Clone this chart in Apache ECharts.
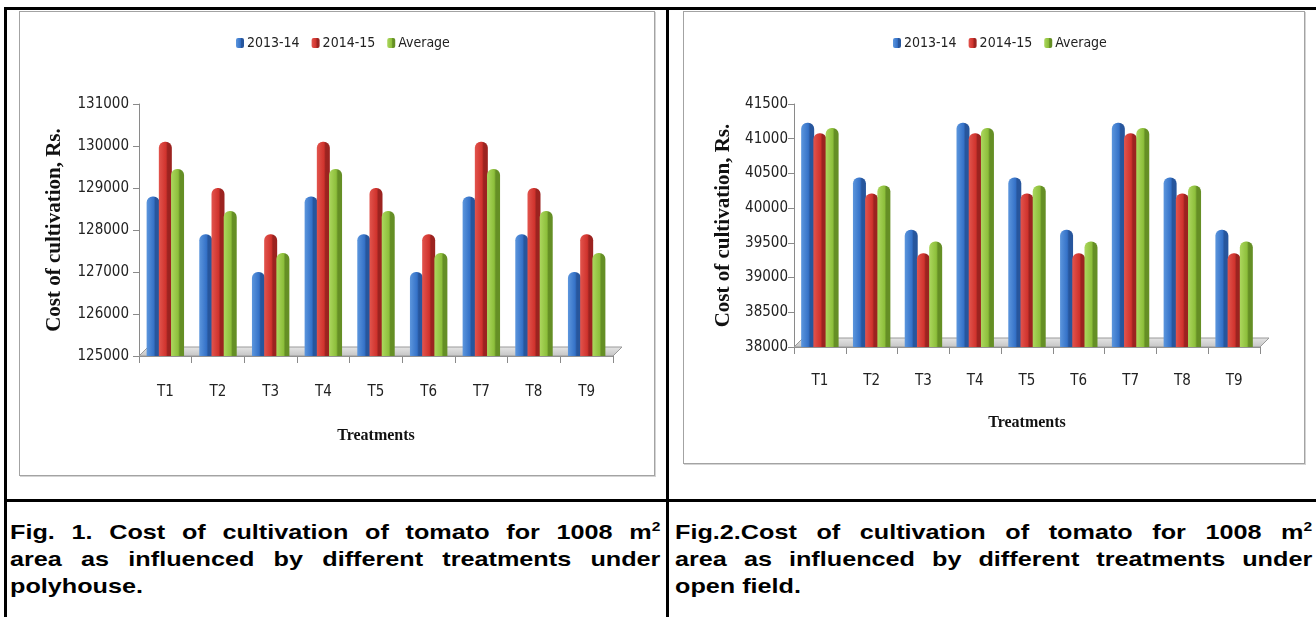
<!DOCTYPE html>
<html>
<head>
<meta charset="utf-8">
<script src="https://cdn.jsdelivr.net/npm/echarts@6/dist/echarts.min.js"></script>
<style>
  html, body { margin: 0; padding: 0; background: #fff; width: 1316px; height: 617px; overflow: hidden; }
  .rule { position: absolute; background: #000; }
  .frame { position: absolute; border: 1px solid #a3a3a3; box-shadow: 1px 1px 0 #d4d4d4; background: #fff; }
  .cap {
    position: absolute; font-family: 'Liberation Sans', Arial, sans-serif; font-weight: bold;
    font-size: 21px; line-height: 27px; color: #000;
    transform: scaleX(1.2); transform-origin: 0 0;
  }
  .cap div { text-align: justify; text-align-last: justify; white-space: nowrap; }
  .cap div.last { text-align: left; text-align-last: left; }
  .cap sup { font-size: 13px; line-height: 0; }
</style>
</head>
<body>
<!-- table rules -->
<div class="rule" style="left:4px;top:7px;width:1312px;height:3px"></div>
<div class="rule" style="left:4px;top:7px;width:3px;height:610px"></div>
<div class="rule" style="left:666px;top:7px;width:3px;height:610px"></div>
<div class="rule" style="left:4px;top:499px;width:1312px;height:3px"></div>

<div id="polyChart" class="frame" style="left:19px;top:11px;width:634px;height:463px"></div>
<div id="openChart" class="frame" style="left:683px;top:11px;width:620px;height:451px"></div>

<div class="cap" style="left:10px;top:518px;width:542px">
  <div>Fig. 1. Cost of cultivation of tomato for 1008 m<sup>2</sup></div>
  <div>area as influenced by different treatments under</div>
  <div class="last">polyhouse.</div>
</div>
<div class="cap" style="left:675px;top:518px;width:531px">
  <div>Fig.2.Cost of cultivation of tomato for 1008 m<sup>2</sup></div>
  <div>area as influenced by different treatments under</div>
  <div class="last">open field.</div>
</div>

<script>
const treatments = ['T1', 'T2', 'T3', 'T4', 'T5', 'T6', 'T7', 'T8', 'T9'];
const seriesNames = ['2013-14', '2014-15', 'Average'];

// polyhouse (Fig. 1)
const poly2013 = [128800, 127900, 127000, 128800, 127900, 127000, 128800, 127900, 127000];
const poly2014 = [130100, 129000, 127900, 130100, 129000, 127900, 130100, 129000, 127900];
const polyAvg = [129450, 128450, 127450, 129450, 128450, 127450, 129450, 128450, 127450];
const polyAxis = [125000, 131000, 1000]; // min, max, interval

// open field (Fig. 2)
const open2013 = [41230, 40440, 39690, 41230, 40440, 39690, 41230, 40440, 39690];
const open2014 = [41080, 40210, 39350, 41080, 40210, 39350, 41080, 40210, 39350];
const openAvg = [41155, 40325, 39520, 41155, 40325, 39520, 41155, 40325, 39520];
const openAxis = [38000, 41500, 500];

const narrow = "'DejaVu Sans Condensed', 'Liberation Sans', sans-serif";
const serif = "'Liberation Serif', 'Times New Roman', serif";

function shade(light, mid, dark) {
  return new echarts.graphic.LinearGradient(0, 0, 1, 0, [
    { offset: 0, color: light },
    { offset: 0.55, color: mid },
    { offset: 0.68, color: dark },
    { offset: 1, color: dark }
  ]);
}
const colors = [
  shade('#5c96dd', '#3572c8', '#27569d'),
  shade('#e2544d', '#d0332d', '#9c2320'),
  shade('#acd75e', '#8dbf3b', '#658f25')
];

// grey 3d floor under the bars
function floorSeries(min) {
  return {
    type: 'custom',
    silent: true,
    z: 1,
    data: [[0, min]],
    renderItem: function (params, api) {
      const a = api.coord([0, min]);
      const b = api.coord([treatments.length - 1, min]);
      const bw = api.size([1, 0])[0];
      const x0 = a[0] - bw / 2, x1 = b[0] + bw / 2, y = a[1];
      return {
        type: 'polygon',
        shape: { points: [[x0, y], [x1, y], [x1 + 9, y - 9], [x0 + 9, y - 9]] },
        style: {
          fill: new echarts.graphic.LinearGradient(0, 0, 0, 1, [
            { offset: 0, color: '#e6e6e6' }, { offset: 1, color: '#c4c4c4' }
          ]),
          stroke: '#9a9a9a',
          lineWidth: 1
        }
      };
    }
  };
}

function makeChart(id, values, axis, g) {
  const chart = echarts.init(document.getElementById(id));
  const bars = values.map(function (v, i) {
    return {
      name: seriesNames[i],
      type: 'bar',
      data: v,
      barWidth: 13,
      barGap: '-6%',
      z: 2,
      itemStyle: { color: colors[i], borderRadius: [6, 6, 0, 0] }
    };
  });
  chart.setOption({
    animation: false,
    legend: {
      data: seriesNames,
      left: g.legendLeft,
      top: 24,
      padding: 0,
      itemWidth: 8,
      itemHeight: 10,
      itemGap: 12,
      textStyle: { fontFamily: narrow, fontSize: 14, color: '#222', padding: [0, 0, 0, -2] }
    },
    grid: { left: g.left, top: 92, width: g.width, height: g.height },
    xAxis: {
      type: 'category',
      data: treatments,
      axisLine: { lineStyle: { color: '#8a8a8a' } },
      axisTick: { show: true, length: 7, lineStyle: { color: '#8a8a8a' } },
      axisLabel: { margin: g.labelMargin, fontFamily: narrow, fontSize: 15, color: '#222' },
      name: 'Treatments',
      nameLocation: 'middle',
      nameGap: g.xNameGap,
      nameTextStyle: { fontFamily: serif, fontWeight: 'bold', fontSize: 16, color: '#111' }
    },
    yAxis: {
      type: 'value',
      min: axis[0],
      max: axis[1],
      interval: axis[2],
      splitLine: { show: false },
      axisLine: { show: true, lineStyle: { color: '#8a8a8a' } },
      axisTick: { show: true, length: 6, lineStyle: { color: '#8a8a8a' } },
      axisLabel: {
        margin: g.yLabelMargin, fontFamily: narrow, fontSize: 15, color: '#222',
        formatter: function (v) { return String(v); }
      },
      name: 'Cost of cultivation, Rs.',
      nameLocation: 'middle',
      nameRotate: 90,
      nameGap: g.yNameGap,
      nameTextStyle: { fontFamily: serif, fontWeight: 'bold', fontSize: 21, color: '#111' }
    },
    series: [floorSeries(axis[0])].concat(bars)
  });
}

makeChart('polyChart', [poly2013, poly2014, polyAvg], polyAxis, {
  legendLeft: 216, left: 119, width: 474, height: 252,
  labelMargin: 29, xNameGap: 72, yLabelMargin: 10, yNameGap: 74
});
makeChart('openChart', [open2013, open2014, openAvg], openAxis, {
  legendLeft: 209, left: 110, width: 466, height: 243,
  labelMargin: 27, xNameGap: 68, yLabelMargin: 6, yNameGap: 55
});
</script>
</body>
</html>
